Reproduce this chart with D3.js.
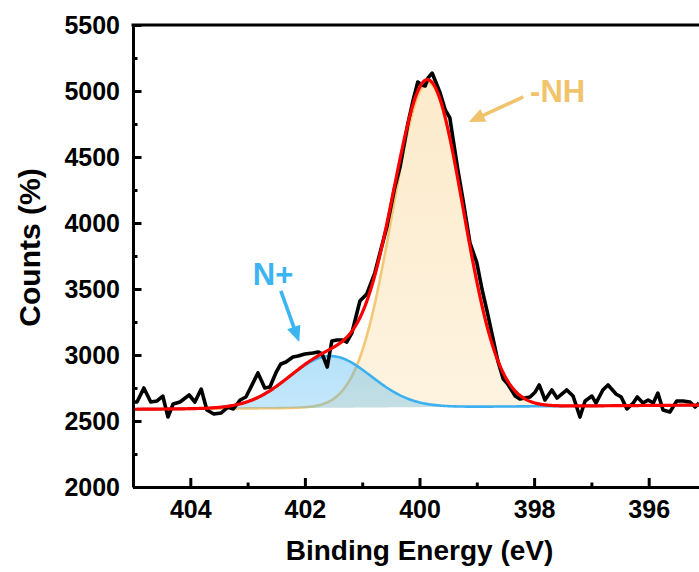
<!DOCTYPE html>
<html>
<head>
<meta charset="utf-8">
<script src="https://cdn.jsdelivr.net/npm/d3@7"></script>
<style>
  html, body { margin: 0; padding: 0; background: #fff; }
  svg { display: block; font-family: "Liberation Sans", Arial, Helvetica, sans-serif; font-weight: bold; }
</style>
</head>
<body>
<svg id="chart" width="699" height="572"></svg>
<script>
// N 1s spectrum: measured points (binding energy in eV, counts)
const energy = [405.00, 404.93, 404.81, 404.69, 404.58, 404.48, 404.39, 404.30, 404.18, 404.02,
  403.92, 403.81, 403.71, 403.59, 403.46, 403.34, 403.25, 403.13, 403.03, 402.94,
  402.82, 402.70, 402.61, 402.50, 402.42, 402.33, 402.21, 402.12, 402.00, 401.86,
  401.77, 401.70, 401.61, 401.53, 401.44, 401.34, 401.27, 401.18, 401.04, 400.92,
  400.78, 400.69, 400.57, 400.43, 400.34, 400.20, 400.11, 400.03, 399.96, 399.90,
  399.85, 399.78, 399.73, 399.64, 399.55, 399.47, 399.42, 399.33, 399.24, 399.12,
  399.00, 398.91, 398.82, 398.73, 398.63, 398.54, 398.46, 398.33, 398.25, 398.07,
  397.98, 397.91, 397.81, 397.69, 397.60, 397.43, 397.32, 397.20, 397.11, 396.99,
  396.92, 396.80, 396.71, 396.57, 396.48, 396.38, 396.27, 396.20, 396.10, 396.01,
  395.92, 395.84, 395.75, 395.63, 395.51, 395.40, 395.28, 395.19, 395.12];
const counts = [2644, 2644, 2750, 2644, 2652, 2689, 2530, 2629, 2644, 2697,
  2644, 2742, 2583, 2553, 2561, 2606, 2591, 2659, 2682, 2758,
  2864, 2750, 2758, 2871, 2932, 2947, 2985, 2992, 3008, 3015,
  3023, 3008, 2909, 3106, 3114, 3114, 3098, 3167, 3409, 3462,
  3621, 3773, 3970, 4273, 4424, 4758, 4932, 5068, 5045, 5038,
  5099, 5136, 5083, 4985, 4856, 4796, 4652, 4402, 4174, 3850,
  3700, 3500, 3330, 3150, 2950, 2820, 2780, 2689, 2667, 2682,
  2720, 2773, 2659, 2735, 2674, 2735, 2689, 2530, 2652, 2689,
  2636, 2735, 2773, 2705, 2682, 2591, 2636, 2682, 2636, 2659,
  2636, 2712, 2583, 2568, 2652, 2652, 2644, 2606, 2636];

// fitted components (Gaussian peaks on a linear background)
const peakLabels  = ["N+", "-NH"];
const peakCenters = [401.56, 399.85];   // eV
const peakHeights = [392, 2458];        // counts above background
const peakFWHM    = [1.68, 1.45];       // eV
const backgroundEnergy = [405, 395];
const backgroundCounts = [2589, 2621];

// axes
const xDomain = [405, 395];
const yDomain = [2000, 5500];
const xTicksMajor = [404, 402, 400, 398, 396];
const xTicksMinor = [403, 401, 399, 397, 395];
const yTicksMajor = [2000, 2500, 3000, 3500, 4000, 4500, 5000, 5500];
const yTicksMinor = [2250, 2750, 3250, 3750, 4250, 4750, 5250];

// annotation anchors in data units: [energy, counts]
const labelPos  = [[402.91, 3530], [398.07, 4917]];
const arrowFrom = [[402.42, 3485], [398.19, 4955]];
const arrowTo   = [[402.10, 3098], [399.14, 4765]];

const peakColors = ["#3cb0f0", "#f2c878"];
const labelColors = ["#3db4f2", "#f0c46c"];

const W = 699, H = 572;
const margin = { left: 133, top: 25, bottom: 85 };
const plotRight = 706;

const svg = d3.select("#chart");
const x = d3.scaleLinear().domain(xDomain).range([margin.left, plotRight]);
const y = d3.scaleLinear().domain(yDomain).range([H - margin.bottom, margin.top]);

const defs = svg.append("defs");
defs.append("clipPath").attr("id", "plot-clip")
  .append("rect")
  .attr("x", margin.left).attr("y", margin.top)
  .attr("width", plotRight - margin.left).attr("height", y(yDomain[0]) - margin.top);

// soft vertical gradients for the component fills
function gradient(id, color, topOp, botOp) {
  const g = defs.append("linearGradient").attr("id", id)
    .attr("x1", 0).attr("y1", 0).attr("x2", 0).attr("y2", 1);
  g.append("stop").attr("offset", "0%").attr("stop-color", color).attr("stop-opacity", topOp);
  g.append("stop").attr("offset", "100%").attr("stop-color", color).attr("stop-opacity", botOp);
}
gradient("fill-np", "#3cb0f0", 0.38, 0.30);
gradient("fill-nh", "#f7c870", 0.36, 0.22);

const bgScale = d3.scaleLinear().domain(backgroundEnergy).range(backgroundCounts);
const sigma = peakFWHM.map(f => f / (2 * Math.sqrt(2 * Math.log(2))));
const peak = (i, e) => peakHeights[i] * Math.exp(-((e - peakCenters[i]) ** 2) / (2 * sigma[i] ** 2));

// evaluation grid for the model curves
const grid = d3.range(0, 501).map(k => xDomain[0] - k * (xDomain[0] - xDomain[1]) / 500);

const plot = svg.append("g").attr("clip-path", "url(#plot-clip)");

const fillIds = ["fill-np", "fill-nh"];
const area = i => d3.area()
  .x(e => x(e))
  .y0(e => y(bgScale(e)))
  .y1(e => y(bgScale(e) + peak(i, e)));
const compLine = i => d3.line()
  .x(e => x(e))
  .y(e => y(bgScale(e) + peak(i, e)));

// -NH component underneath, N+ component on top
[1, 0].forEach(i => {
  plot.append("path").datum(grid)
    .attr("d", area(i))
    .attr("fill", `url(#${fillIds[i]})`);
  plot.append("path").datum(grid)
    .attr("d", compLine(i))
    .attr("fill", "none")
    .attr("stroke", peakColors[i])
    .attr("stroke-width", 2.6);
});

// measured spectrum
const raw = energy.map((e, i) => [e, counts[i]]);
plot.append("path").datum(raw)
  .attr("d", d3.line().x(d => x(d[0])).y(d => y(d[1])))
  .attr("fill", "none")
  .attr("stroke", "#000")
  .attr("stroke-width", 3.6)
  .attr("stroke-linejoin", "round");

// envelope of the fit
plot.append("path").datum(grid)
  .attr("d", d3.line().x(e => x(e)).y(e => y(bgScale(e) + peak(0, e) + peak(1, e))))
  .attr("fill", "none")
  .attr("stroke", "#ff0000")
  .attr("stroke-width", 3.2);

// axes
const axisG = svg.append("g");
const xAxis = axisG.append("g")
  .attr("transform", `translate(0,${y(yDomain[0])})`)
  .call(d3.axisBottom(x).tickValues(xTicksMajor).tickFormat(d3.format("d"))
    .tickSize(-9).tickSizeOuter(0).tickPadding(13));
const xMinor = axisG.append("g")
  .attr("transform", `translate(0,${y(yDomain[0])})`)
  .call(d3.axisBottom(x).tickValues(xTicksMinor).tickSize(-4.5).tickSizeOuter(0).tickFormat(""));
const yAxis = axisG.append("g")
  .attr("transform", `translate(${margin.left},0)`)
  .call(d3.axisLeft(y).tickValues(yTicksMajor).tickFormat(d3.format("d"))
    .tickSize(-8.5).tickSizeOuter(0).tickPadding(13));
const yMinor = axisG.append("g")
  .attr("transform", `translate(${margin.left},0)`)
  .call(d3.axisLeft(y).tickValues(yTicksMinor).tickSize(-4.5).tickSizeOuter(0).tickFormat(""));

[xAxis, xMinor, yAxis, yMinor].forEach(g => {
  g.select(".domain").attr("stroke", "#000").attr("stroke-width", 3);
  g.selectAll(".tick line").attr("stroke", "#000").attr("stroke-width", 3);
  g.selectAll(".tick text")
    .attr("fill", "#000")
    .style("font-family", "'Liberation Sans', Arial, sans-serif")
    .style("font-weight", "bold")
    .style("font-size", "25px");
});
xMinor.select(".domain").remove();
yMinor.select(".domain").remove();

// top frame line
axisG.append("line")
  .attr("x1", margin.left - 1.5).attr("x2", plotRight)
  .attr("y1", margin.top).attr("y2", margin.top)
  .attr("stroke", "#000").attr("stroke-width", 3);

// axis titles
svg.append("text")
  .attr("x", (margin.left + plotRight) / 2).attr("y", 560)
  .attr("text-anchor", "middle")
  .style("font-size", "28px")
  .attr("fill", "#000")
  .text("Binding Energy (eV)");
svg.append("text")
  .attr("transform", `translate(39.5,247.5) rotate(-90)`)
  .attr("text-anchor", "middle")
  .style("font-size", "30px")
  .attr("fill", "#000")
  .text("Counts (%)");

// peak labels with arrows
peakLabels.forEach((lab, i) => {
  const c = labelColors[i];
  svg.append("text")
    .attr("x", x(labelPos[i][0])).attr("y", y(labelPos[i][1]))
    .style("font-size", "31px")
    .attr("fill", c)
    .text(lab);

  const x0 = x(arrowFrom[i][0]), y0 = y(arrowFrom[i][1]);
  const x1 = x(arrowTo[i][0]), y1 = y(arrowTo[i][1]);
  const len = Math.hypot(x1 - x0, y1 - y0);
  const ux = (x1 - x0) / len, uy = (y1 - y0) / len;
  const headL = 16, headW = 7;
  const bx = x1 - ux * headL, by = y1 - uy * headL;
  svg.append("line")
    .attr("x1", x0).attr("y1", y0).attr("x2", bx + ux * 2).attr("y2", by + uy * 2)
    .attr("stroke", c).attr("stroke-width", 3.6);
  svg.append("path")
    .attr("d", `M${x1},${y1}L${bx - uy * headW},${by + ux * headW}L${bx + uy * headW},${by - ux * headW}Z`)
    .attr("fill", c);
});
</script>
</body>
</html>
